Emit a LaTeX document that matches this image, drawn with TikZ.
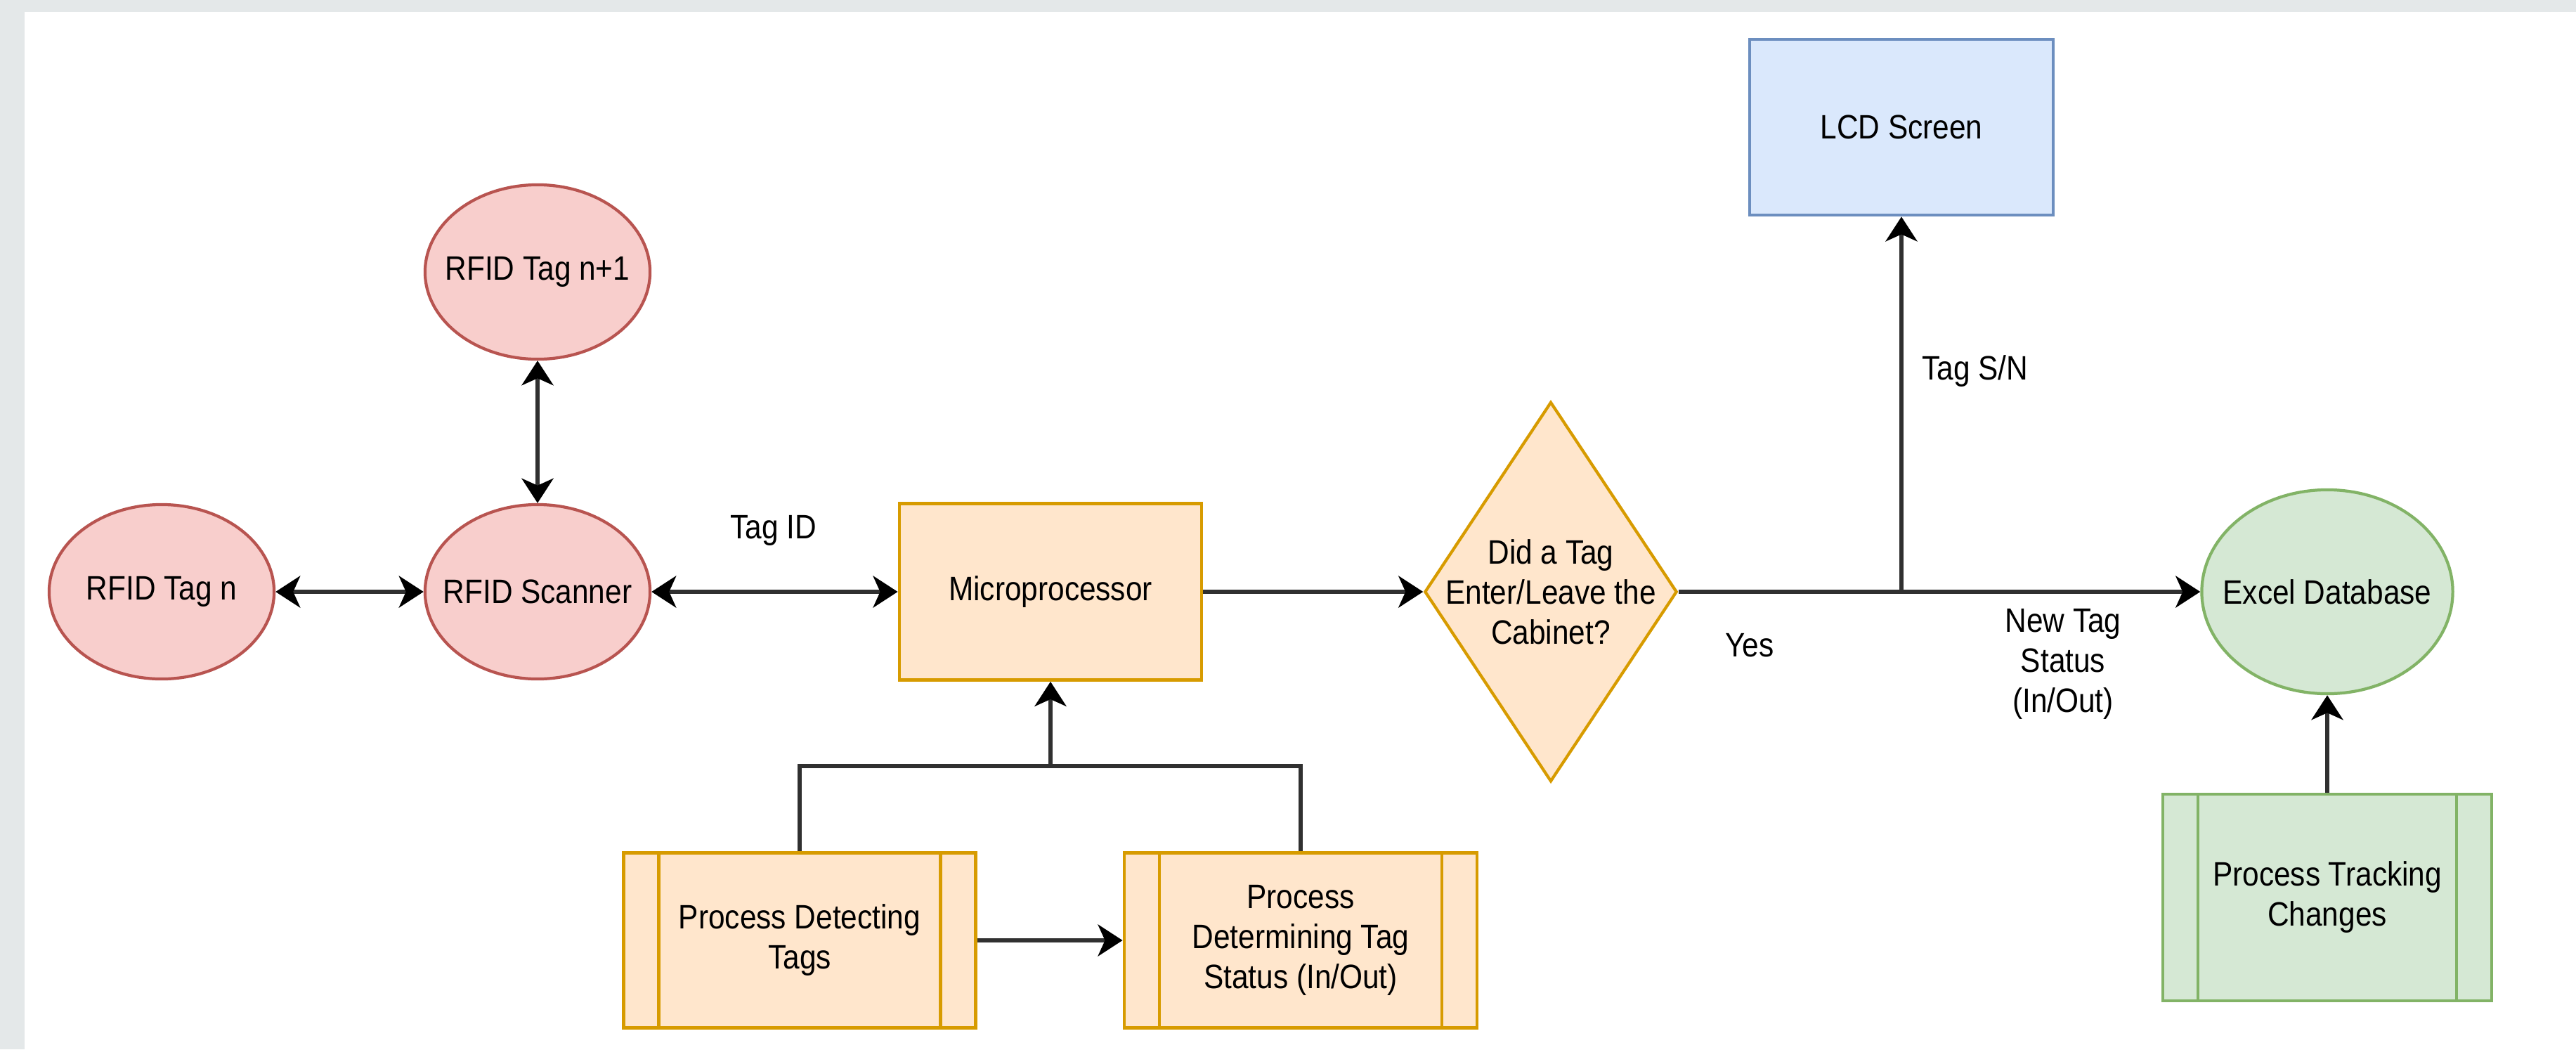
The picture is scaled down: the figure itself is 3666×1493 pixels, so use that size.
\documentclass[tikz,border=0pt]{standalone}
\usepackage{fontspec}
\setmainfont[FakeStretch=0.88]{Liberation Sans}
\usetikzlibrary{shapes.geometric,arrows.meta}

\definecolor{redfill}{HTML}{F8CECC}
\definecolor{redline}{HTML}{B85450}
\definecolor{orangefill}{HTML}{FFE6CC}
\definecolor{orangeline}{HTML}{D79B00}
\definecolor{bluefill}{HTML}{DAE8FC}
\definecolor{blueline}{HTML}{6C8EBF}
\definecolor{greenfill}{HTML}{D5E8D4}
\definecolor{greenline}{HTML}{82B366}
\definecolor{pagegray}{HTML}{E4E8E9}
\definecolor{wire}{HTML}{303030}

\tikzset{
  every node/.style={font=\fontsize{13.7}{16.2}\selectfont, align=center, inner sep=0pt},
  tagnode/.style={ellipse, draw=redline, fill=redfill, line width=1.2pt,
    minimum width=3.2cm, minimum height=2.48cm},
  dbnode/.style={ellipse, draw=greenline, fill=greenfill, line width=1.2pt,
    minimum width=3.57cm, minimum height=2.9cm},
  cpubox/.style={rectangle, draw=orangeline, fill=orangefill, line width=1.3pt,
    minimum width=4.3cm, minimum height=2.51cm},
  screenbox/.style={rectangle, draw=blueline, fill=bluefill, line width=1.3pt,
    minimum width=4.32cm, minimum height=2.5cm},
  decision/.style={diamond, draw=orangeline, fill=orangefill, line width=1.2pt,
    minimum width=3.59cm, minimum height=5.4cm},
  procbox/.style n args={2}{rectangle, draw=#1, fill=#2, line width=1.3pt,
    path picture={\draw[#1, line width=1.3pt]
      ([xshift=0.5cm]path picture bounding box.north west) -- ([xshift=0.5cm]path picture bounding box.south west)
      ([xshift=-0.5cm]path picture bounding box.north east) -- ([xshift=-0.5cm]path picture bounding box.south east);}},
  wireline/.style={draw=wire, line width=1.7pt},
  onearrow/.style={wireline, -{Stealth[length=0.35cm,width=0.45cm,inset=0.1cm,color=black]}},
  twoarrow/.style={wireline, {Stealth[length=0.35cm,width=0.45cm,inset=0.1cm,color=black]}-{Stealth[length=0.35cm,width=0.45cm,inset=0.1cm,color=black]}}
}

\begin{document}
\begin{tikzpicture}[x=0.01cm, y=-0.01cm]
\fill[pagegray] (0,0) rectangle (3666,1493);
\fill[white] (35,17) rectangle (3666,1493);

\node[tagnode, label={center:RFID Tag n}] (tagn) at (230,842) {};
\node[tagnode, label={center:RFID Tag n+1}] (tagnext) at (765,387) {};
\node[tagnode, label={center:RFID Scanner}] (scanner) at (765,842) {};
\node[cpubox] (micro) at (1495,842) {Microprocessor};
\node[decision, label={center:{Did a Tag\\Enter/Leave the\\Cabinet?}}] (decide) at (2207,842) {};
\node[screenbox] (lcd) at (2706,181) {LCD Screen};
\node[dbnode, label={center:Excel Database}] (excel) at (3312,842) {};
\node[procbox={orangeline}{orangefill}, minimum width=5.01cm, minimum height=2.49cm] (detect) at (1138,1338) {Process Detecting\\Tags};
\node[procbox={orangeline}{orangefill}, minimum width=5.02cm, minimum height=2.49cm] (determine) at (1851,1338) {Process\\Determining Tag\\Status (In/Out)};
\node[procbox={greenline}{greenfill}, minimum width=4.68cm, minimum height=2.94cm] (track) at (3312,1277) {Process Tracking\\Changes};

\node (tagid) at (1101,755) {Tag ID};
\node (yes) at (2490,918) {Yes};
\node (sn) at (2811,528) {Tag S/N};
\node (status) at (2936,945) {New Tag\\Status\\(In/Out)};

\coordinate (split) at (2706,842);
\coordinate (join) at (1495,1090);

\draw[twoarrow] (tagn) -- (scanner);
\draw[twoarrow] (tagnext) -- (scanner);
\draw[twoarrow] (scanner) -- (micro);
\draw[onearrow] (micro) -- (decide);
\draw[onearrow] (decide.east) -- (excel.west);
\draw[onearrow] (split) -- (lcd.south);
\draw[wireline] (detect.north) |- (join) -| (determine.north);
\draw[onearrow] (join) -- (micro.south);
\draw[onearrow] (detect) -- (determine);
\draw[onearrow] (track) -- (excel);
\end{tikzpicture}
\end{document}
